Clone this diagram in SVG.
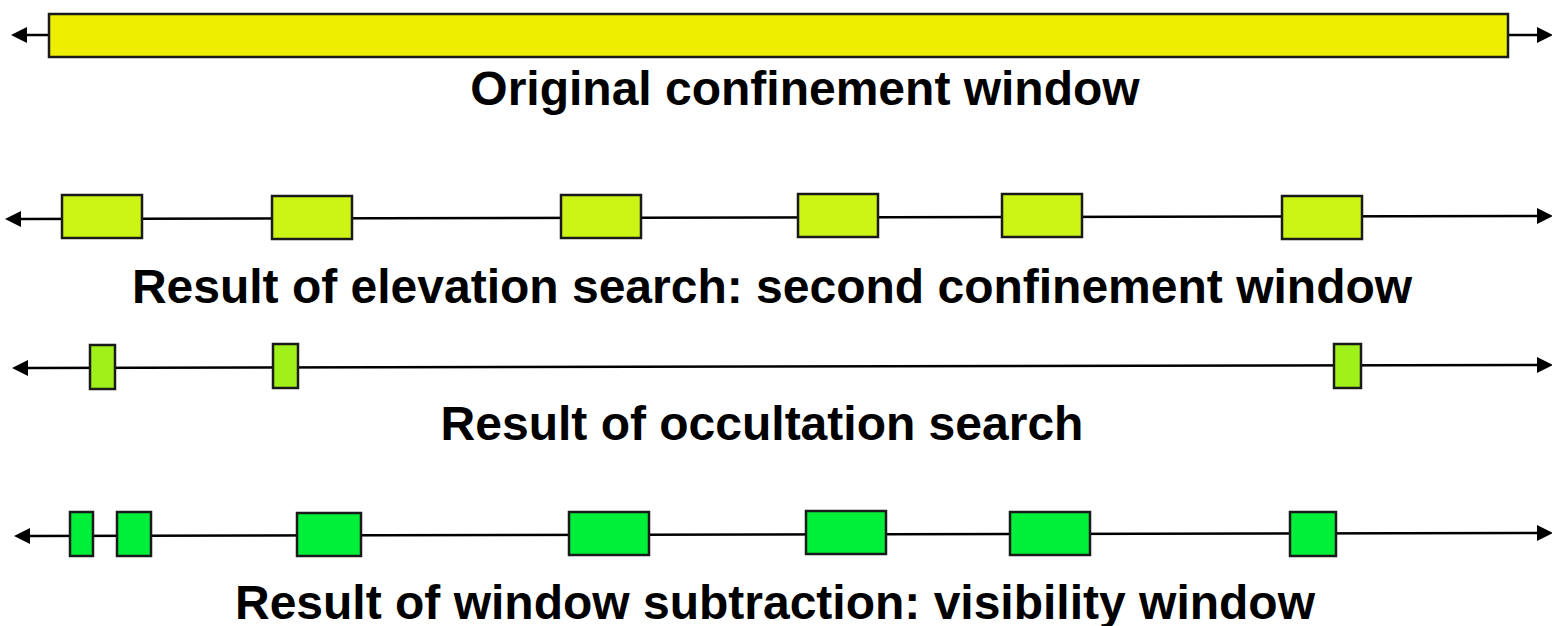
<svg xmlns="http://www.w3.org/2000/svg" width="1552" height="626" viewBox="0 0 1552 626">
  <defs>
    <marker id="arr" markerUnits="userSpaceOnUse" markerWidth="16" markerHeight="16" viewBox="0 0 15 15" refX="0" refY="7.5" orient="auto-start-reverse">
      <path d="M0,0 L15,7.5 L0,15 z" fill="#000"/>
    </marker>
    <style>
      .ln { stroke:#000; stroke-width:2.5; fill:none; marker-start:url(#arr); marker-end:url(#arr); }
      .bx { stroke:#1a1a1a; stroke-width:2.5; }
      .y1 { fill:#eeee00; }
      .y2 { fill:#ccf516; }
      .y3 { fill:#a0f01a; }
      .y4 { fill:#00f03a; }
      .lbl { font-family:"Liberation Sans", Arial, sans-serif; font-weight:bold; font-size:48px; fill:#000; text-anchor:middle; }
    </style>
  </defs>
  <rect width="1552" height="626" fill="#fff"/>
  <g id="connectors">
    <path class="ln" d="M27,35 L1537,35"/>
    <path class="ln" d="M21,219 L1537,216"/>
    <path class="ln" d="M28,368 L1537,365"/>
    <path class="ln" d="M30,536 L1537,533"/>
  </g>
  <g id="row1">
    <rect class="bx y1" x="49" y="14" width="1459" height="43"/>
    <text class="lbl" x="805" y="105">Original confinement window</text>
  </g>
  <g id="row2">
    <rect class="bx y2" x="62" y="195" width="80" height="43"/>
    <rect class="bx y2" x="272" y="196" width="80" height="43"/>
    <rect class="bx y2" x="561" y="195" width="80" height="43"/>
    <rect class="bx y2" x="798" y="194" width="80" height="43"/>
    <rect class="bx y2" x="1002" y="194" width="80" height="43"/>
    <rect class="bx y2" x="1282" y="196" width="80" height="43"/>
    <text class="lbl" x="772" y="303">Result of elevation search: second confinement window</text>
  </g>
  <g id="row3">
    <rect class="bx y3" x="90" y="345" width="25" height="44"/>
    <rect class="bx y3" x="273" y="344" width="25" height="44"/>
    <rect class="bx y3" x="1334" y="344" width="27" height="44"/>
    <text class="lbl" x="762" y="440">Result of occultation search</text>
  </g>
  <g id="row4">
    <rect class="bx y4" x="70" y="512" width="23" height="44"/>
    <rect class="bx y4" x="117" y="512" width="34" height="44"/>
    <rect class="bx y4" x="297" y="513" width="64" height="43"/>
    <rect class="bx y4" x="569" y="512" width="80" height="43"/>
    <rect class="bx y4" x="806" y="511" width="80" height="43"/>
    <rect class="bx y4" x="1010" y="512" width="80" height="43"/>
    <rect class="bx y4" x="1290" y="512" width="46" height="44"/>
    <text class="lbl" x="775" y="619">Result of window subtraction: visibility window</text>
  </g>
</svg>
